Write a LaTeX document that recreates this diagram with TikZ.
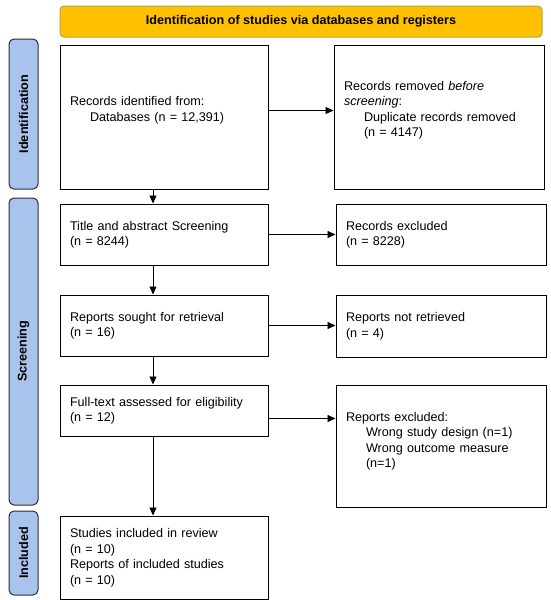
\documentclass[tikz,border=0pt]{standalone}
\usepackage{fontspec}
\setmainfont{Liberation Sans}
\usetikzlibrary{arrows.meta, positioning}

\definecolor{bannerfill}{HTML}{FFC000}
\definecolor{bannerline}{HTML}{B8A43A}
\definecolor{phasefill}{HTML}{A9C3EC}
\definecolor{phaseline}{HTML}{26313F}

\begin{document}
\begin{tikzpicture}[
x=1pt, y=-1pt,
box/.style={
    draw,
    rectangle,
    line width=1pt,
    align=left,
    inner xsep=10pt,
    text width=188pt,
    minimum width=208pt,
    font=\fontsize{12.6}{15.5}\selectfont
},
sidebox/.style={
    box,
    text width=190pt,
    minimum width=210pt
},
phase/.style={
    draw=phaseline,
    fill=phasefill,
    line width=1pt,
    rounded corners=5pt,
    rotate=90,
    minimum height=29pt,
    font=\fontsize{12.6}{15}\selectfont\bfseries
},
arrow/.style={-{Triangle[length=8pt,width=7pt]}, line width=0.8pt}
]
\useasboundingbox (0,0) rectangle (550,600);

% Header
\node[
    draw=bannerline,
    fill=bannerfill,
    line width=1pt,
    rounded corners=4pt,
    minimum width=482pt,
    minimum height=31pt,
    font=\fontsize{12.6}{15}\selectfont\bfseries
] (banner) at (301,21.5) {Identification of studies via databases and registers};

% Phase labels
\node[phase, minimum width=150pt] (identphase) at (23.5,114) {Identification};
\node[phase, minimum width=307pt] (screenphase) at (23.5,351.5) {Screening};
\node[phase, minimum width=84pt] (includephase) at (23.5,553) {Included};

% Main column
\node[box, minimum height=144pt, text depth=32pt] (records) at (164,117)
    {Records identified from:\\\hspace*{20pt}Databases (n = 12,391)};
\node[box, minimum height=61pt, below=14pt of records] (screening)
    {Title and abstract Screening\\(n = 8244)};
\node[box, minimum height=61pt, below=29pt of screening] (sought)
    {Reports sought for retrieval\\(n = 16)};
\node[box, minimum height=51pt, below=28pt of sought] (fulltext)
    {Full-text assessed for eligibility\\(n = 12)};
\node[box, minimum height=83pt, below=79pt of fulltext] (included)
    {Studies included in review\\(n = 10)\\Reports of included studies\\(n = 10)};

% Excluded column
\node[sidebox, minimum height=144pt, text depth=63pt, right=65pt of records.north east, anchor=north west] (removed)
    {Records removed \textit{before}\\\textit{screening}:\\\hspace*{20pt}Duplicate records removed\\\hspace*{20pt}(n = 4147)};
\node[sidebox, minimum height=61pt, right=67pt of screening.north east, anchor=north west] (excluded)
    {Records excluded\\(n = 8228)};
\node[sidebox, minimum height=62pt, right=67pt of sought.north east, anchor=north west] (notretrieved)
    {Reports not retrieved\\(n = 4)};
\node[sidebox, minimum height=122pt, text depth=59pt, right=67pt of fulltext.north east, anchor=north west] (reportsexcl)
    {Reports excluded:\\\hspace*{20pt}Wrong study design (n=1)\\\hspace*{20pt}Wrong outcome measure\\\hspace*{20pt}(n=1)};

% Arrows down
\draw[arrow] ([xshift=-11pt]records.south) -- ([xshift=-11pt]screening.north);
\draw[arrow] ([xshift=-11pt]screening.south) -- ([xshift=-11pt]sought.north);
\draw[arrow] ([xshift=-11pt]sought.south) -- ([xshift=-11pt]fulltext.north);
\draw[arrow] ([xshift=-11pt]fulltext.south) -- ([xshift=-11pt]included.north);

% Arrows right
\draw[arrow] ([yshift=6.5pt]records.east) -- ([yshift=6.5pt]records.east -| removed.west);
\draw[arrow] (screening.east) -- (screening.east -| excluded.west);
\draw[arrow] (sought.east) -- (sought.east -| notretrieved.west);
\draw[arrow] ([yshift=-8pt]fulltext.east) -- ([yshift=-8pt]fulltext.east -| reportsexcl.west);

\end{tikzpicture}
\end{document}
